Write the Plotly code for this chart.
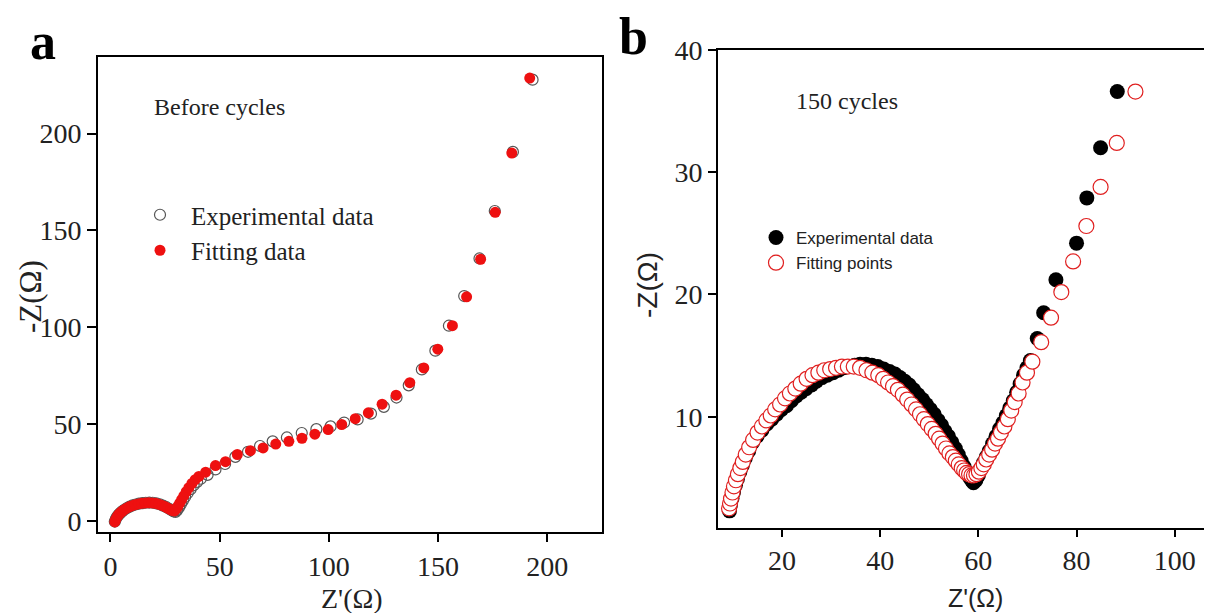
import plotly.graph_objects as go

# page body has an 8px margin: the figure is placed at (8, 8)
OFF = 8
W, H = 1212 - OFF, 613 - OFF

# ---------------- Panel a data (Before cycles) ----------------
a_exp_x = [2.0, 2.5, 3.1, 3.8, 4.6, 5.5, 6.5, 7.6, 8.8, 10.1, 11.5, 13.0, 14.6, 16.2, 17.8, 19.4,
           21.0, 22.6, 24.1, 25.6, 26.9, 28.0, 29.0, 29.8, 30.6, 31.4, 32.3, 33.2, 34.2, 35.4, 36.7,
           38.1, 39.7, 41.4, 44.5, 48.1, 52.5, 57.2, 63.0, 68.5, 74.3, 80.8, 87.6, 94.3, 100.8,
           107.0, 113.2, 119.3, 125.2, 131.0, 136.6, 142.6, 148.8, 155.0, 162.0, 169.0, 176.0,
           184.3, 193.3]
a_exp_y = [-0.3, 1.1, 2.3, 3.3, 4.2, 5.1, 5.9, 6.7, 7.4, 8.0, 8.5, 8.9, 9.2, 9.4, 9.5, 9.4,
           9.1, 8.6, 7.9, 7.1, 6.3, 5.5, 4.9, 4.7, 5.6, 7.0, 8.7, 10.5, 12.4, 14.4, 16.4,
           18.4, 20.2, 21.8, 23.8, 26.6, 29.4, 33.1, 35.7, 38.7, 41.1, 43.1, 45.4, 47.4, 48.8,
           50.8, 52.4, 55.4, 58.9, 63.7, 70.0, 78.2, 87.9, 100.8, 116.1, 135.5, 160.0,
           190.5, 227.8]

a_fit_x = [2.0, 2.4, 3.0, 3.6, 4.4, 5.3, 6.3, 7.4, 8.6, 9.9, 11.3, 12.8, 14.3, 15.9, 17.5, 19.1,
           20.7, 22.2, 23.7, 25.1, 26.4, 27.5, 28.5, 29.3, 30.1, 30.9, 31.7, 32.6, 33.6, 34.7,
           35.9, 37.3, 38.8, 40.5, 43.6, 48.1, 52.7, 58.1, 64.1, 69.9, 75.7, 81.7, 87.7, 93.6,
           99.7, 105.9, 112.1, 118.1, 124.4, 130.8, 137.1, 143.5, 149.9, 156.6, 163.1, 169.5,
           176.2, 183.8, 192.0]
a_fit_y = [-0.5, 0.8, 2.0, 3.1, 4.1, 5.0, 5.8, 6.6, 7.3, 7.9, 8.4, 8.8, 9.1, 9.3, 9.4, 9.3,
           9.1, 8.6, 8.0, 7.3, 6.5, 5.8, 5.3, 5.2, 6.2, 7.6, 9.2, 11.0, 13.0, 15.1,
           17.2, 19.4, 21.3, 23.0, 25.2, 28.6, 30.6, 34.3, 36.3, 37.7, 39.7, 41.1, 42.7, 44.8,
           47.2, 49.8, 52.8, 55.8, 60.3, 64.9, 71.4, 79.0, 88.7, 100.8, 115.7, 135.1,
           159.3, 189.9, 228.6]

a_xticks = [0, 50, 100, 150, 200]
a_yticks = [0, 50, 100, 150, 200]

# ---------------- Panel b data (150 cycles) ----------------
b_exp_x = [9.3, 9.5, 9.8, 10.1, 10.5, 10.9, 11.4, 11.9, 12.5, 13.2, 14.0, 14.9, 15.9, 16.9, 17.9,
           18.9, 19.9, 20.9, 21.9, 22.9, 23.9, 24.9, 26.0, 27.0, 28.1, 29.2, 30.4, 31.5, 32.6,
           33.7, 34.8, 35.9, 37.1, 38.3, 39.5, 40.7, 41.9, 43.0, 44.0, 45.0, 45.9, 46.8, 47.7,
           48.6, 49.4, 50.2, 51.0, 51.8, 52.5, 53.2, 53.9, 54.6, 55.3, 55.9, 56.5, 57.1, 57.6,
           58.1, 58.6, 59.0, 59.5, 60.0, 60.5, 61.0, 61.6, 62.2, 62.9, 63.6, 64.3, 65.0, 65.7,
           66.4, 67.1, 67.8, 68.5, 69.2, 69.9, 70.6, 72.0, 73.3, 75.8, 80.0, 82.1, 84.9, 88.3]
b_exp_y = [2.3, 2.8, 3.3, 3.8, 4.4, 4.9, 5.5, 6.0, 6.6, 7.2, 7.9, 8.4, 8.9, 9.4, 9.8,
           10.2, 10.6, 10.9, 11.3, 11.7, 12.0, 12.3, 12.6, 12.9, 13.2, 13.4, 13.6, 13.8, 14.0,
           14.1, 14.2, 14.3, 14.3, 14.2, 14.1, 13.9, 13.7, 13.5, 13.2, 12.9, 12.6, 12.2, 11.8,
           11.4, 11.0, 10.6, 10.2, 9.7, 9.3, 8.8, 8.4, 7.9, 7.4, 6.9, 6.4, 5.9, 5.5,
           5.1, 4.8, 4.6, 4.8, 5.2, 5.7, 6.2, 6.7, 7.2, 7.8, 8.4, 9.0, 9.5, 10.1,
           10.7, 11.3, 12.0, 12.7, 13.4, 14.0, 14.6, 16.4, 18.5, 21.2, 24.2, 27.9, 32.0, 36.6]

b_fit_x = [9.2, 9.4, 9.6, 9.9, 10.2, 10.6, 11.0, 11.5, 12.0, 12.6, 13.3, 14.1, 15.0, 15.9, 16.8,
           17.7, 18.6, 19.6, 20.6, 21.6, 22.7, 23.8, 25.0, 26.2, 27.4, 28.6, 29.8, 31.0, 32.2,
           33.4, 34.6, 35.9, 37.2, 38.4, 39.6, 40.6, 41.6, 42.6, 43.6, 44.6, 45.5, 46.4, 47.3,
           48.1, 48.9, 49.7, 50.5, 51.3, 52.0, 52.7, 53.4, 54.1, 54.8, 55.4, 56.0, 56.6, 57.1,
           57.6, 58.1, 58.6, 59.1, 59.6, 60.1, 60.6, 61.1, 61.6, 62.2, 62.8, 63.4, 64.0, 64.6,
           65.3, 66.0, 66.7, 67.4, 68.2, 69.0, 69.9, 71.0, 72.8, 74.8, 76.9, 79.3, 82.0, 84.9,
           88.2, 92.0]
b_fit_y = [2.5, 2.9, 3.3, 3.8, 4.3, 4.8, 5.3, 5.8, 6.3, 6.9, 7.5, 8.1, 8.7, 9.2, 9.7,
           10.1, 10.6, 11.0, 11.5, 11.9, 12.3, 12.7, 13.1, 13.4, 13.6, 13.8, 13.9, 14.0, 14.1,
           14.1, 14.1, 14.0, 13.8, 13.6, 13.4, 13.1, 12.8, 12.5, 12.2, 11.8, 11.4, 11.0, 10.6,
           10.2, 9.8, 9.4, 9.0, 8.6, 8.2, 7.8, 7.4, 7.0, 6.7, 6.4, 6.1, 5.8, 5.6,
           5.4, 5.3, 5.2, 5.2, 5.3, 5.5, 5.8, 6.1, 6.5, 6.9, 7.3, 7.8, 8.2, 8.7,
           9.2, 9.8, 10.5, 11.2, 11.9, 12.8, 13.6, 14.5, 16.1, 18.1, 20.2, 22.7, 25.6, 28.8,
           32.4, 36.6]

b_xticks = [20, 40, 60, 80, 100]
b_yticks = [10, 20, 30, 40]

SERIF = "Liberation Serif, Times New Roman, serif"
SANS = "Liberation Sans, Arial, sans-serif"
RED = "#ee1010"


def px(x):
    """window pixel x -> paper fraction"""
    return (x - OFF) / W


def py(y):
    """window pixel y -> paper fraction"""
    return 1 - (y - OFF) / H


fig = go.Figure()

# Panel a
fig.add_trace(go.Scatter(
    x=a_exp_x, y=a_exp_y, mode="markers", name="Experimental data",
    marker=dict(symbol="circle-open", size=11, color="#555555", line=dict(width=1.2, color="#555555")),
    xaxis="x", yaxis="y", legend="legend"))
fig.add_trace(go.Scatter(
    x=a_fit_x, y=a_fit_y, mode="markers", name="Fitting data",
    marker=dict(symbol="circle", size=11, color=RED, line=dict(width=0)),
    xaxis="x", yaxis="y", legend="legend"))

# Panel b
fig.add_trace(go.Scatter(
    x=b_exp_x, y=b_exp_y, mode="markers", name="Experimental data",
    marker=dict(symbol="circle", size=15, color="#000000", line=dict(width=0)),
    xaxis="x2", yaxis="y2", legend="legend2"))
fig.add_trace(go.Scatter(
    x=b_fit_x, y=b_fit_y, mode="markers", name="Fitting points",
    marker=dict(symbol="circle", size=15, color="white", line=dict(width=1.2, color="#e02020")),
    xaxis="x2", yaxis="y2", legend="legend2"))

axis_common = dict(
    showgrid=False, zeroline=False, showline=True, linecolor="black", linewidth=2,
    ticks="outside", tickwidth=2, tickcolor="black", automargin=False,
    tickfont=dict(family=SERIF, size=28, color="#222222"),
)

fig.update_layout(
    width=W, height=H,
    margin=dict(l=0, r=0, t=0, b=0, autoexpand=False),
    paper_bgcolor="white", plot_bgcolor="white",
    xaxis=dict(domain=[px(98), px(602)], range=[-5.7, 225.1], tickvals=a_xticks, ticklen=8,
               mirror=True, anchor="y", **axis_common),
    yaxis=dict(domain=[py(532), py(57)], range=[-5.7, 239.5], tickvals=a_yticks, ticklen=9,
               mirror=True, anchor="x", **axis_common),
    xaxis2=dict(domain=[px(718), 1.0], range=[6.95, 107.6], tickvals=b_xticks, ticklen=7,
                mirror=True, anchor="y2", **axis_common),
    yaxis2=dict(domain=[py(527.7), py(50)], range=[0.92, 40], tickvals=b_yticks, ticklen=8,
                mirror=False, anchor="x2", **axis_common),
    legend=dict(x=px(129), y=py(192), xanchor="left", yanchor="top",
                bgcolor="rgba(0,0,0,0)", itemwidth=52, tracegroupgap=0,
                font=dict(family=SERIF, size=25, color="#222222")),
    legend2=dict(x=px(756), y=py(220), xanchor="left", yanchor="top",
                 bgcolor="rgba(0,0,0,0)", itemwidth=30,
                 font=dict(family=SANS, size=17, color="#222222")),
    showlegend=True,
)

annos = [
    dict(text="<b>a</b>", x=px(43), y=py(42), font=dict(family=SERIF, size=52, color="black")),
    dict(text="<b>b</b>", x=px(633), y=py(36), font=dict(family=SERIF, size=52, color="black")),
    dict(text="Before cycles", x=px(152), y=py(107), xanchor="left",
         font=dict(family=SERIF, size=24, color="#222222")),
    dict(text="150 cycles", x=px(794), y=py(101), xanchor="left",
         font=dict(family=SERIF, size=24, color="#222222")),
    dict(text="Z'(Ω)", x=px(352), y=py(598), font=dict(family=SERIF, size=28, color="#222222")),
    dict(text="-Z(Ω)", x=px(30), y=py(297), textangle=-90,
         font=dict(family=SERIF, size=31, color="#222222")),
    dict(text="Z'(Ω)", x=px(975), y=py(598), font=dict(family=SANS, size=25, color="#222222")),
    dict(text="-Z(Ω)", x=px(648), y=py(285), textangle=-90,
         font=dict(family=SANS, size=28, color="#222222")),
]
for a in annos:
    a.setdefault("xanchor", "center")
    fig.add_annotation(xref="paper", yref="paper", yanchor="middle", showarrow=False, **a)

fig.write_html("out.html")
